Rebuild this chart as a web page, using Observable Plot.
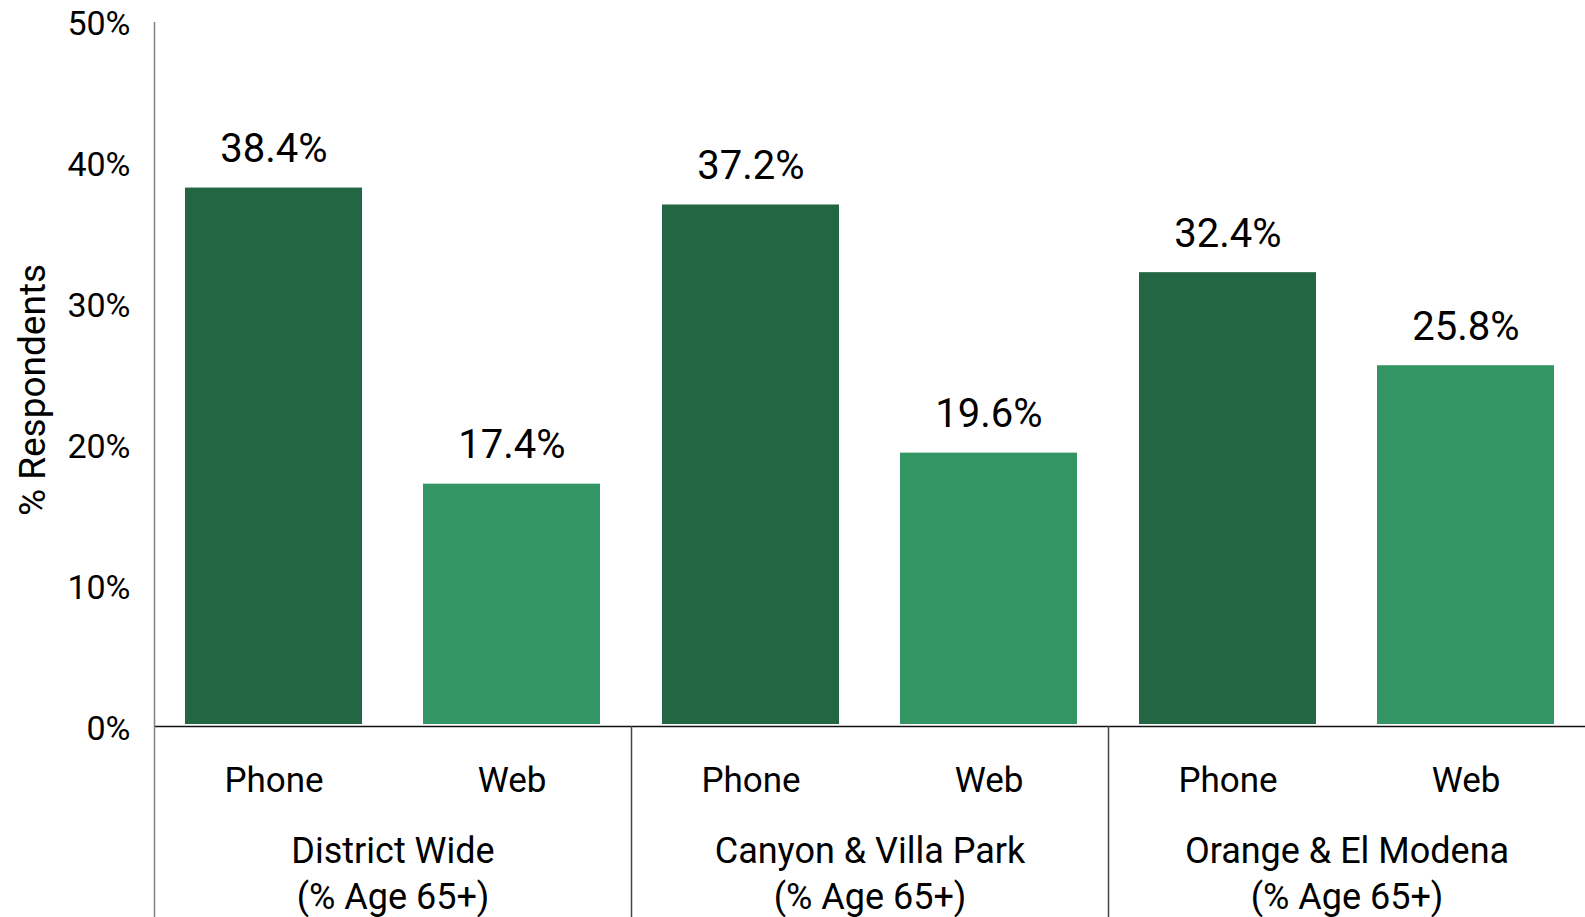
<!DOCTYPE html>
<html>
<head>
<meta charset="utf-8">
<script src="https://cdn.jsdelivr.net/npm/d3@7"></script>
<script src="https://cdn.jsdelivr.net/npm/@observablehq/plot@0.6"></script>
<style>
  html, body { margin: 0; padding: 0; background: #fff; overflow: hidden; }
  #chart svg { display: block; }
</style>
</head>
<body>
<div id="chart"></div>
<script>
// ---- Data ----
const groups = ["District Wide", "Canyon & Villa Park", "Orange & El Modena"];
const groupSubtitle = "(% Age 65+)";
const modes = ["Phone", "Web"];
const phoneValues = [38.4, 37.2, 32.4];
const webValues = [17.4, 19.6, 25.8];
const yTicks = [0, 10, 20, 30, 40, 50];
const yLabel = "% Respondents";
const colors = ["#236644", "#339563"];

const rows = [];
groups.forEach((g, i) => {
  rows.push({group: g, mode: modes[0], value: phoneValues[i]});
  rows.push({group: g, mode: modes[1], value: webValues[i]});
});

const W = 1585, H = 917;

const chart = Plot.plot({
  width: W,
  height: H,
  marginLeft: 153,
  marginRight: 0,
  marginTop: 24,
  marginBottom: 188,
  style: {fontFamily: "Roboto, sans-serif", fontSize: "35px", color: "#000", background: "#fff"},
  fx: {domain: groups, padding: 0, label: null},
  x: {domain: modes, paddingInner: 0.258, paddingOuter: 0.129, label: null},
  y: {domain: [0, 50], label: null},
  color: {domain: modes, range: colors},
  marks: [
    Plot.barY(rows, {fx: "group", x: "mode", y: "value", fill: "mode", insetBottom: 5}),
    Plot.ruleY([0], {stroke: "#111", strokeWidth: 1.5, dy: -3}),
    Plot.text(rows, {fx: "group", x: "mode", y: "value", text: d => d.value.toFixed(1) + "%",
      lineAnchor: "bottom", dy: -26, fontSize: 40, fill: "#000"}),
    Plot.axisX({tickSize: 0, tickPadding: 38, fontSize: 35, label: null}),
    Plot.axisFx({anchor: "bottom", tickSize: 0, tickPadding: 101, fontSize: 36, lineHeight: 1.27,
      tickFormat: d => d + "\n" + groupSubtitle, label: null}),
    Plot.axisY({ticks: yTicks, tickSize: 0, tickPadding: 24, fontSize: 34, tickFormat: d => d + "%", label: null}),
    Plot.axisY({ticks: [], tickSize: 0, fontSize: 37, label: yLabel, labelAnchor: "center", labelArrow: "none", labelOffset: 136})
  ]
});

document.getElementById("chart").appendChild(chart);

const svg = d3.select(chart.tagName.toLowerCase() === "svg" ? chart : chart.querySelector("svg"));

// Nudge the y-axis title a little lower, as in the reference
svg.selectAll('g[aria-label="y-axis label"]').each(function () {
  const g = d3.select(this);
  const t = g.attr("transform") || "";
  g.attr("transform", (t + " translate(0,13)").trim());
});

// Axis line and group separators, positioned through Plot's own scales
const fx = chart.scale("fx");
const y = chart.scale("y");
const lines = svg.append("g").attr("aria-label", "separators");
groups.forEach((g, i) => {
  const x0 = Math.round(fx.apply(g)) + 0.5;
  lines.append("line")
    .attr("x1", x0).attr("x2", x0)
    .attr("y1", i === 0 ? y.apply(yTicks[yTicks.length - 1]) - 2 : y.apply(0) - 3)
    .attr("y2", H)
    .attr("stroke", i === 0 ? "#808080" : "#444")
    .attr("stroke-width", 1.5);
});
</script>
</body>
</html>
